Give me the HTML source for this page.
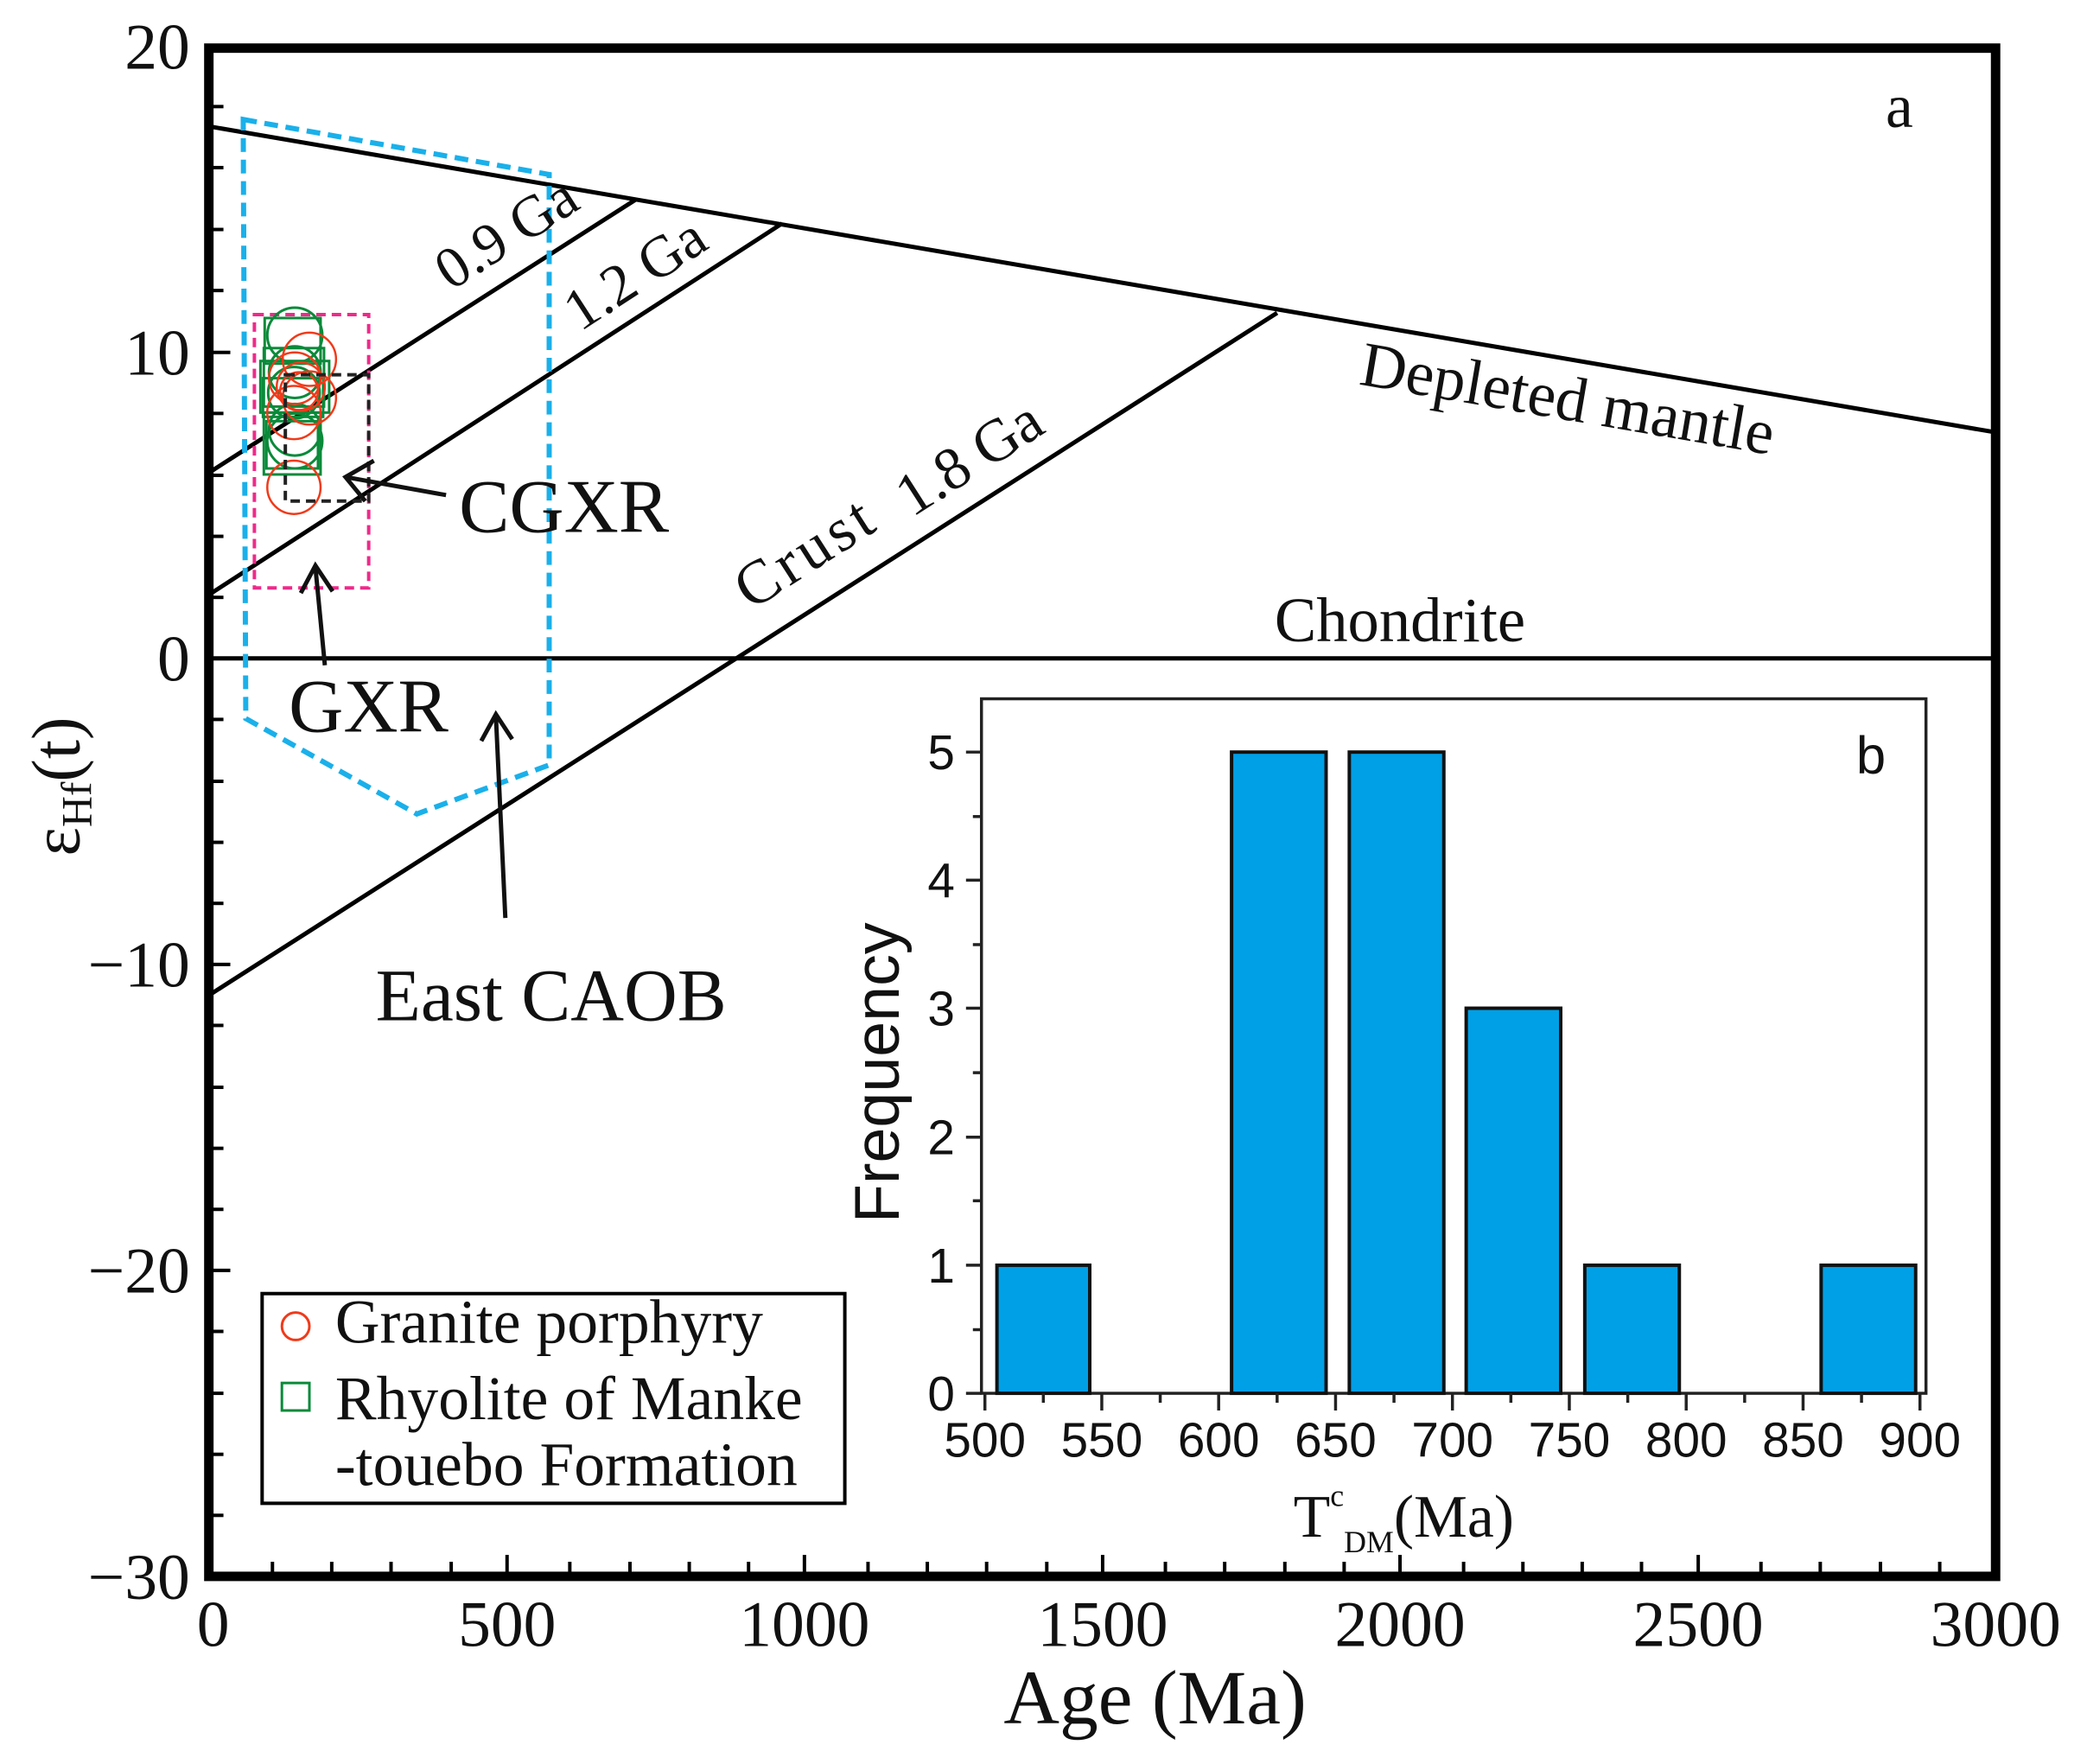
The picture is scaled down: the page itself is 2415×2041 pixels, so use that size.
<!DOCTYPE html>
<html><head><meta charset="utf-8"><style>
html,body{margin:0;padding:0;background:#fff;}
svg{display:block;}
.serif{font-family:"Liberation Serif",serif;}
.sans{font-family:"Liberation Sans",sans-serif;}
</style></head><body>
<svg width="2415" height="2041" viewBox="0 0 2415 2041" xmlns="http://www.w3.org/2000/svg">
<rect width="2415" height="2041" fill="#fff"/>
<g transform="scale(0.9945)">
<!-- main lines -->
<g stroke="#000" stroke-width="5" fill="none">
<line x1="243" y1="147" x2="2322" y2="503"/>
<line x1="243" y1="766" x2="2322" y2="766"/>
<line x1="243" y1="550" x2="740" y2="232"/>
<line x1="243" y1="692" x2="910" y2="260"/>
<line x1="243" y1="1158" x2="1486" y2="364"/>
</g>
<polygon points="283,139 639,203 639,890 485,947 286,836" fill="none" stroke="#1ab0ea" stroke-width="6" stroke-dasharray="16,9"/>
<rect x="296" y="366" width="133" height="318" fill="none" stroke="#ee2a8a" stroke-width="4" stroke-dasharray="11,7"/>
<g fill="none" stroke="#0a8a3a" stroke-width="3">
<rect x="308" y="370" width="65" height="53"/>
<rect x="307" y="405" width="70" height="68"/>
<rect x="303" y="420" width="80" height="60"/>
<rect x="307" y="480" width="66" height="72"/>
<rect x="310" y="490" width="60" height="55"/>
<rect x="306" y="440" width="70" height="45"/>
<circle cx="343" cy="390" r="32"/>
<circle cx="343" cy="513" r="32"/>
<circle cx="342" cy="457" r="30"/>
<circle cx="343" cy="433" r="30"/>
<circle cx="343" cy="500" r="30"/>
</g>
<g fill="none" stroke="#f03a1a" stroke-width="2.5">
<circle cx="342" cy="567" r="31"/>
<circle cx="360" cy="418" r="31"/>
<circle cx="350" cy="450" r="28"/>
<circle cx="360" cy="463" r="31"/>
<circle cx="343" cy="440" r="30"/>
<circle cx="342" cy="480" r="31"/>
<circle cx="348" cy="455" r="22"/>
</g>
<rect x="332" y="436" width="97" height="147" fill="none" stroke="#222" stroke-width="4" stroke-dasharray="11,7"/>
<g stroke="#111" stroke-width="5" fill="none">
<line x1="519" y1="576" x2="402" y2="555"/>
<polyline points="435,536 402,555 425,583"/>
<line x1="378" y1="774" x2="367" y2="660"/>
<polyline points="350,690 367,658 387,688"/>
<line x1="588" y1="1068" x2="577" y2="833"/>
<polyline points="560,862 577,831 596,860"/>
</g>
<g class="serif" fill="#111">
<text x="2210" y="148" font-size="72" text-anchor="middle">a</text>
<text x="534" y="619" font-size="88">CGXR</text>
<text x="336" y="851" font-size="88">GXR</text>
<text x="437" y="1187" font-size="86">East CAOB</text>
<text x="1483" y="746" font-size="73">Chondrite</text>
<text transform="translate(1820,488) rotate(9.7)" font-size="74" text-anchor="middle">Depleted mantle</text>
<text transform="translate(601,290) rotate(-32.6)" font-size="68" text-anchor="middle">0.9 Ga</text>
<text transform="translate(751,337) rotate(-33)" font-size="68" text-anchor="middle">1.2 Ga</text>
<text transform="translate(950,662) rotate(-32.6)" font-size="72" letter-spacing="5" text-anchor="middle">Crust</text>
<text transform="translate(1140,552) rotate(-32.6)" font-size="70" text-anchor="middle">1.8 Ga</text>
</g>
<rect x="243" y="56" width="2079" height="1778" fill="none" stroke="#000" stroke-width="11"/>
<g stroke="#000" stroke-width="4">
<line x1="248" y1="124" x2="260" y2="124"/><line x1="248" y1="195" x2="260" y2="195"/>
<line x1="248" y1="267" x2="260" y2="267"/><line x1="248" y1="338" x2="260" y2="338"/>
<line x1="248" y1="410" x2="268" y2="410"/><line x1="248" y1="481" x2="260" y2="481"/>
<line x1="248" y1="553" x2="260" y2="553"/><line x1="248" y1="624" x2="260" y2="624"/>
<line x1="248" y1="695" x2="260" y2="695"/><line x1="248" y1="766" x2="268" y2="766"/>
<line x1="248" y1="837" x2="260" y2="837"/><line x1="248" y1="909" x2="260" y2="909"/>
<line x1="248" y1="980" x2="260" y2="980"/><line x1="248" y1="1051" x2="260" y2="1051"/>
<line x1="248" y1="1122" x2="268" y2="1122"/><line x1="248" y1="1193" x2="260" y2="1193"/>
<line x1="248" y1="1265" x2="260" y2="1265"/><line x1="248" y1="1336" x2="260" y2="1336"/>
<line x1="248" y1="1407" x2="260" y2="1407"/><line x1="248" y1="1478" x2="268" y2="1478"/>
<line x1="248" y1="1549" x2="260" y2="1549"/><line x1="248" y1="1621" x2="260" y2="1621"/>
<line x1="248" y1="1692" x2="260" y2="1692"/><line x1="248" y1="1763" x2="260" y2="1763"/>
</g>
<g class="serif" fill="#111" font-size="76">
<text x="221" y="80" text-anchor="end">20</text>
<text x="221" y="436" text-anchor="end">10</text>
<text x="221" y="792" text-anchor="end">0</text>
<text x="221" y="1148" text-anchor="end">−10</text>
<text x="221" y="1504" text-anchor="end">−20</text>
<text x="221" y="1860" text-anchor="end">−30</text>
<text x="248" y="1915" text-anchor="middle">0</text>
<text x="590" y="1915" text-anchor="middle">500</text>
<text x="936" y="1915" text-anchor="middle">1000</text>
<text x="1283" y="1915" text-anchor="middle">1500</text>
<text x="1629" y="1915" text-anchor="middle">2000</text>
<text x="1976" y="1915" text-anchor="middle">2500</text>
<text x="2322" y="1915" text-anchor="middle">3000</text>
<text x="1344" y="2005" text-anchor="middle" font-size="90">Age (Ma)</text>
<text transform="translate(92,915) rotate(-90)" text-anchor="middle" font-size="80">ε<tspan font-size="50" dy="14">Hf</tspan><tspan dy="-14">(t)</tspan></text>
</g>
<rect x="305" y="1505" width="678" height="244" fill="#fff" stroke="#000" stroke-width="4"/>
<circle cx="344" cy="1543" r="16" fill="none" stroke="#f03a1a" stroke-width="3"/>
<rect x="328" y="1609" width="32" height="32" fill="none" stroke="#0a8a3a" stroke-width="3"/>
<g class="serif" fill="#111" font-size="72">
<text x="390" y="1562">Granite porphyry</text>
<text x="390" y="1651">Rhyolite of Manke</text>
<text x="390" y="1728">-touebo Formation</text>
</g>
<rect x="1142" y="813" width="1099" height="808" fill="#fff" stroke="#222" stroke-width="3.5"/>
<g fill="#00a0e6" stroke="#111" stroke-width="4">
<rect x="1160" y="1472" width="108" height="149"/>
<rect x="1433" y="875" width="110" height="746"/>
<rect x="1570" y="875" width="110" height="746"/>
<rect x="1706" y="1173" width="110" height="448"/>
<rect x="1844" y="1472" width="110" height="149"/>
<rect x="2119" y="1472" width="110" height="149"/>
</g>
<g stroke="#222" stroke-width="3.5">
<line x1="1146" y1="1621" x2="1146" y2="1641"/><line x1="1214" y1="1621" x2="1214" y2="1632"/>
<line x1="1282" y1="1621" x2="1282" y2="1641"/><line x1="1350" y1="1621" x2="1350" y2="1632"/>
<line x1="1418" y1="1621" x2="1418" y2="1641"/><line x1="1486" y1="1621" x2="1486" y2="1632"/>
<line x1="1554" y1="1621" x2="1554" y2="1641"/><line x1="1622" y1="1621" x2="1622" y2="1632"/>
<line x1="1690" y1="1621" x2="1690" y2="1641"/><line x1="1758" y1="1621" x2="1758" y2="1632"/>
<line x1="1826" y1="1621" x2="1826" y2="1641"/><line x1="1894" y1="1621" x2="1894" y2="1632"/>
<line x1="1962" y1="1621" x2="1962" y2="1641"/><line x1="2030" y1="1621" x2="2030" y2="1632"/>
<line x1="2098" y1="1621" x2="2098" y2="1641"/><line x1="2166" y1="1621" x2="2166" y2="1632"/>
<line x1="2234" y1="1621" x2="2234" y2="1641"/>
<line x1="1142" y1="1621" x2="1124" y2="1621"/><line x1="1142" y1="1547" x2="1132" y2="1547"/>
<line x1="1142" y1="1472" x2="1124" y2="1472"/><line x1="1142" y1="1397" x2="1132" y2="1397"/>
<line x1="1142" y1="1323" x2="1124" y2="1323"/><line x1="1142" y1="1248" x2="1132" y2="1248"/>
<line x1="1142" y1="1173" x2="1124" y2="1173"/><line x1="1142" y1="1099" x2="1132" y2="1099"/>
<line x1="1142" y1="1024" x2="1124" y2="1024"/><line x1="1142" y1="950" x2="1132" y2="950"/>
<line x1="1142" y1="875" x2="1124" y2="875"/>
</g>
<g class="sans" fill="#111" font-size="57">
<text x="1146" y="1695" text-anchor="middle">500</text>
<text x="1282" y="1695" text-anchor="middle">550</text>
<text x="1418" y="1695" text-anchor="middle">600</text>
<text x="1554" y="1695" text-anchor="middle">650</text>
<text x="1690" y="1695" text-anchor="middle">700</text>
<text x="1826" y="1695" text-anchor="middle">750</text>
<text x="1962" y="1695" text-anchor="middle">800</text>
<text x="2098" y="1695" text-anchor="middle">850</text>
<text x="2234" y="1695" text-anchor="middle">900</text>
<text x="1111" y="1641" text-anchor="end">0</text>
<text x="1111" y="1492" text-anchor="end">1</text>
<text x="1111" y="1343" text-anchor="end">2</text>
<text x="1111" y="1193" text-anchor="end">3</text>
<text x="1111" y="1044" text-anchor="end">4</text>
<text x="1111" y="895" text-anchor="end">5</text>
<text x="2177" y="900" text-anchor="middle" font-size="62">b</text>
<text transform="translate(1046,1248) rotate(-90)" text-anchor="middle" font-size="74">Frequency</text>
</g>
<text class="serif" x="1505" y="1788" font-size="70" fill="#111">T<tspan font-size="36" dy="-36">c</tspan><tspan font-size="36" dy="54">DM</tspan><tspan dy="-18">(Ma)</tspan></text>
<g stroke="#000" stroke-width="4">
<line x1="317" y1="1829" x2="317" y2="1817"/><line x1="386" y1="1829" x2="386" y2="1817"/>
<line x1="455" y1="1829" x2="455" y2="1817"/><line x1="525" y1="1829" x2="525" y2="1817"/>
<line x1="590" y1="1829" x2="590" y2="1809"/><line x1="663" y1="1829" x2="663" y2="1817"/>
<line x1="733" y1="1829" x2="733" y2="1817"/><line x1="802" y1="1829" x2="802" y2="1817"/>
<line x1="871" y1="1829" x2="871" y2="1817"/><line x1="936" y1="1829" x2="936" y2="1809"/>
<line x1="1010" y1="1829" x2="1010" y2="1817"/><line x1="1079" y1="1829" x2="1079" y2="1817"/>
<line x1="1148" y1="1829" x2="1148" y2="1817"/><line x1="1218" y1="1829" x2="1218" y2="1817"/>
<line x1="1283" y1="1829" x2="1283" y2="1809"/><line x1="1356" y1="1829" x2="1356" y2="1817"/>
<line x1="1425" y1="1829" x2="1425" y2="1817"/><line x1="1495" y1="1829" x2="1495" y2="1817"/>
<line x1="1564" y1="1829" x2="1564" y2="1817"/><line x1="1629" y1="1829" x2="1629" y2="1809"/>
<line x1="1703" y1="1829" x2="1703" y2="1817"/><line x1="1772" y1="1829" x2="1772" y2="1817"/>
<line x1="1841" y1="1829" x2="1841" y2="1817"/><line x1="1910" y1="1829" x2="1910" y2="1817"/>
<line x1="1976" y1="1829" x2="1976" y2="1809"/><line x1="2049" y1="1829" x2="2049" y2="1817"/>
<line x1="2118" y1="1829" x2="2118" y2="1817"/><line x1="2188" y1="1829" x2="2188" y2="1817"/>
<line x1="2257" y1="1829" x2="2257" y2="1817"/>
</g>
</g>
</svg>
</body></html>
